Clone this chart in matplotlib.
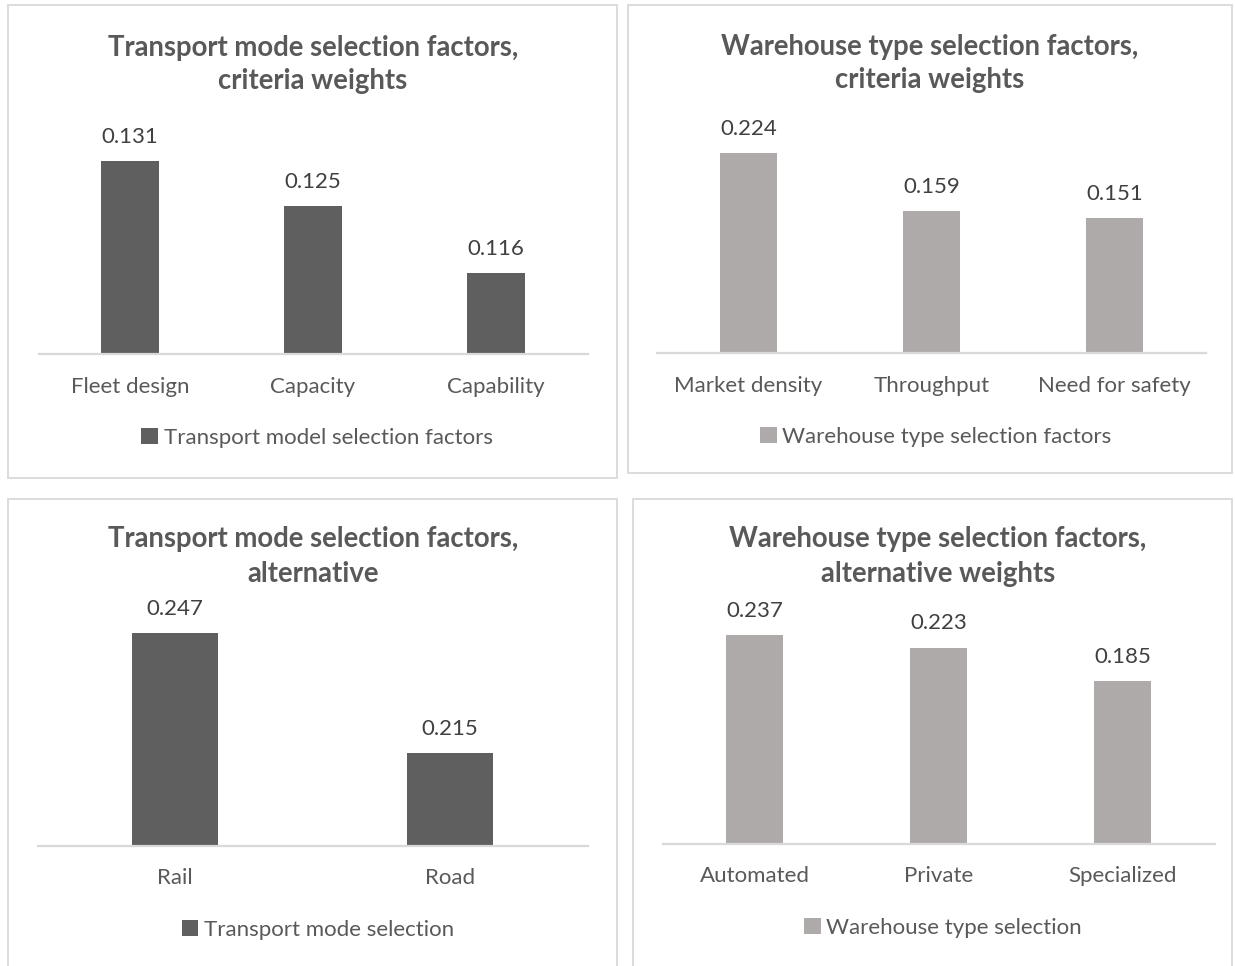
import matplotlib
matplotlib.use("Agg")
import matplotlib.pyplot as plt
from matplotlib.patches import Rectangle

# ---- data -------------------------------------------------------------
crit_transport_labels = ["Fleet design", "Capacity", "Capability"]
crit_transport_values = [0.131, 0.125, 0.116]

crit_warehouse_labels = ["Market density", "Throughput", "Need for safety"]
crit_warehouse_values = [0.224, 0.159, 0.151]

alt_transport_labels = ["Rail", "Road"]
alt_transport_values = [0.247, 0.215]

alt_warehouse_labels = ["Automated", "Private", "Specialized"]
alt_warehouse_values = [0.237, 0.223, 0.185]

titles = [
    ["Transport mode selection factors,", "criteria weights"],
    ["Warehouse type selection factors,", "criteria weights"],
    ["Transport mode selection factors,", "alternative"],
    ["Warehouse type selection factors,", "alternative weights"],
]
series_names = [
    "Transport model selection factors",
    "Warehouse type selection factors",
    "Transport mode selection",
    "Warehouse type selection",
]

# ---- style ------------------------------------------------------------
DARK = "#5f5f5f"
LIGHT = "#aeaaaa"
TEXT = "#595959"
LABEL = "#404040"
FRAME = "#d9d9d9"
plt.rcParams["font.family"] = ["Lato", "DejaVu Sans"]

FS = 16          # body text size
FS_TITLE = 19.8  # chart title size

W, H = 1235, 966
fig = plt.figure(figsize=(W / 100, H / 100), dpi=100)
fig.patch.set_facecolor("white")


def fx(x):
    return x / W


def fy(y):
    return 1 - y / H


panels = [
    dict(labels=crit_transport_labels, values=crit_transport_values, color=DARK,
         frame=(8, 5, 617, 478), axx=(38.5, 587.5), axy=(131.7, 354.3), ylim=(0.105, 0.135),
         tx=313, ty=(56, 89), cat_base=393, leg=(317, 438)),
    dict(labels=crit_warehouse_labels, values=crit_warehouse_values, color=LIGHT,
         frame=(628, 5, 1232, 473), axx=(656.8, 1205.8), axy=(129.9, 352.7), ylim=(0.0, 0.25),
         tx=930, ty=(55, 88), cat_base=391.5, leg=(936, 437)),
    dict(labels=alt_transport_labels, values=alt_transport_values, color=DARK,
         frame=(8, 499, 617, 990), axx=(37.5, 587.5), axy=(622.3, 846), ylim=(0.19, 0.25),
         tx=313, ty=(547, 582), cat_base=884, leg=(318, 930)),
    dict(labels=alt_warehouse_labels, values=alt_warehouse_values, color=LIGHT,
         frame=(633, 499, 1232, 990), axx=(662.5, 1214.5), axy=(623.7, 844.3), ylim=(0.0, 0.25),
         tx=938, ty=(547, 582), cat_base=882.5, leg=(943, 928)),
]

for p, title_lines, name in zip(panels, titles, series_names):
    x0, y0, x1, y1 = p["frame"]
    fig.patches.append(Rectangle((fx(x0), fy(y1)), fx(x1 - x0), (y1 - y0) / H,
                                 transform=fig.transFigure, fill=False,
                                 edgecolor=FRAME, linewidth=1.3))

    ax_l, ax_r = p["axx"]
    ax_t, ax_b = p["axy"]
    ax = fig.add_axes([fx(ax_l), fy(ax_b), fx(ax_r - ax_l), (ax_b - ax_t) / H])
    ax.set_facecolor("none")
    n = len(p["labels"])
    xs = list(range(n))
    bars = ax.bar(xs, p["values"], width=0.313, color=p["color"], label=name,
                  bottom=0, zorder=2)
    ax.set_xlim(-0.5, n - 0.5)
    ax.set_ylim(*p["ylim"])
    for side in ("top", "right", "left"):
        ax.spines[side].set_visible(False)
    ax.spines["bottom"].set_color(FRAME)
    ax.spines["bottom"].set_linewidth(1.6)
    ax.set_yticks([])
    ax.set_xticks([])

    # value labels above bars
    for xi, v in zip(xs, p["values"]):
        ax.annotate(f"{v:.3f}", xy=(xi, v), xytext=(0, 13), textcoords="offset points",
                    ha="center", va="baseline", fontsize=FS, color=LABEL)

    # category labels under the axis
    for xi, lab in zip(xs, p["labels"]):
        ax.annotate(lab, xy=(xi, 0), xycoords=("data", "axes fraction"),
                    xytext=(0, -(p["cat_base"] - ax_b) * 0.72), textcoords="offset points",
                    ha="center", va="baseline", fontsize=FS, color=TEXT)

    # title
    for line, yb in zip(title_lines, p["ty"]):
        fig.text(fx(p["tx"]), fy(yb), line, ha="center", va="baseline",
                 fontsize=FS_TITLE, fontweight="bold", color=TEXT)

    # legend
    lx, ly = p["leg"]
    ax.legend(handles=[bars], labels=[name], loc="center",
              bbox_to_anchor=(fx(lx), fy(ly)), bbox_transform=fig.transFigure,
              frameon=False, fontsize=FS, labelcolor=TEXT,
              handlelength=0.75, handleheight=0.75, handletextpad=0.25,
              borderpad=0, borderaxespad=0)

fig.savefig("out.png", dpi=100, facecolor="white")
